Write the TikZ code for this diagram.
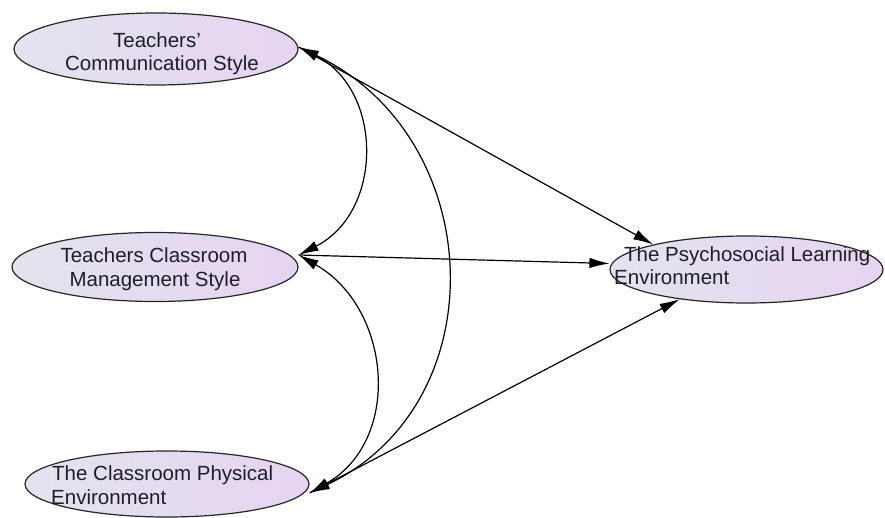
\documentclass[tikz,border=0pt]{standalone}
\usepackage{fontspec}
\setmainfont{Liberation Sans}
\usetikzlibrary{shapes.geometric,arrows.meta}
\definecolor{ellL}{HTML}{E3E3EE}
\definecolor{ellR}{HTML}{E6D4F1}
\definecolor{txt}{HTML}{1E1E28}
\begin{document}
\begin{tikzpicture}[x=1pt,y=-1pt,
  latent/.style={ellipse, draw=black!85, line width=1.2pt, left color=ellL, right color=ellR, inner sep=0pt},
  lbl/.style={font=\fontsize{20.5}{23}\selectfont, text=txt, inner sep=0pt},
  regpath/.style={line width=1.2pt, -{Latex[length=20pt,width=10.5pt]}},
  covpath/.style={line width=1.2pt, {Latex[length=20pt,width=10.5pt]}-{Latex[length=20pt,width=10.5pt]}}]
\useasboundingbox (0,0) rectangle (885,518);
\clip (0,0) rectangle (885,518);
\fill[white] (0,0) rectangle (885,518);

\node[latent, minimum width=284pt, minimum height=72pt] (e1) at (156,49) {};
\node[latent, minimum width=286pt, minimum height=69pt] (e2) at (155,267) {};
\node[latent, minimum width=284pt, minimum height=66pt] (e3) at (167,484) {};
\node[latent, minimum width=273pt, minimum height=67pt] (e4) at (746.5,269.5) {};

% covariances
\draw[covpath] ([yshift=2pt]e1.east) .. controls +(85,43) and +(85,-43) .. ([yshift=12pt]e2.east);
\draw[covpath] ([yshift=2pt]e1.east) .. controls +(189,90) and +(189,-90) .. ([yshift=-9pt]e3.east);
\draw[covpath] ([yshift=12pt]e2.east) .. controls +(93,53) and +(93,-53) .. ([yshift=-9pt]e3.east);

% regressions
\draw[regpath] ([yshift=2pt]e1.east) -- (e4.165);
\draw[regpath] ([yshift=12pt]e2.east) -- ([yshift=6pt]e4.west);
\draw[regpath] ([yshift=-9pt]e3.east) -- (e4.204);

% labels
\node[lbl, anchor=base] (t1a) at (157,48) {Teachers'};
\node[lbl, anchor=base] (t1b) at (162,71) {Communication Style};
\node[lbl, anchor=base] (t2a) at (154,263) {Teachers Classroom};
\node[lbl, anchor=base] (t2b) at (155,287) {Management Style};
\node[lbl, anchor=base west] (t3a) at (52,480) {The Classroom Physical};
\node[lbl, anchor=base west] (t3b) at (51,504) {Environment};
\node[lbl, anchor=base west] (t4a) at (624,262) {The Psychosocial Learning};
\node[lbl, anchor=base west] (t4b) at (614,285) {Environment};
\end{tikzpicture}
\end{document}
